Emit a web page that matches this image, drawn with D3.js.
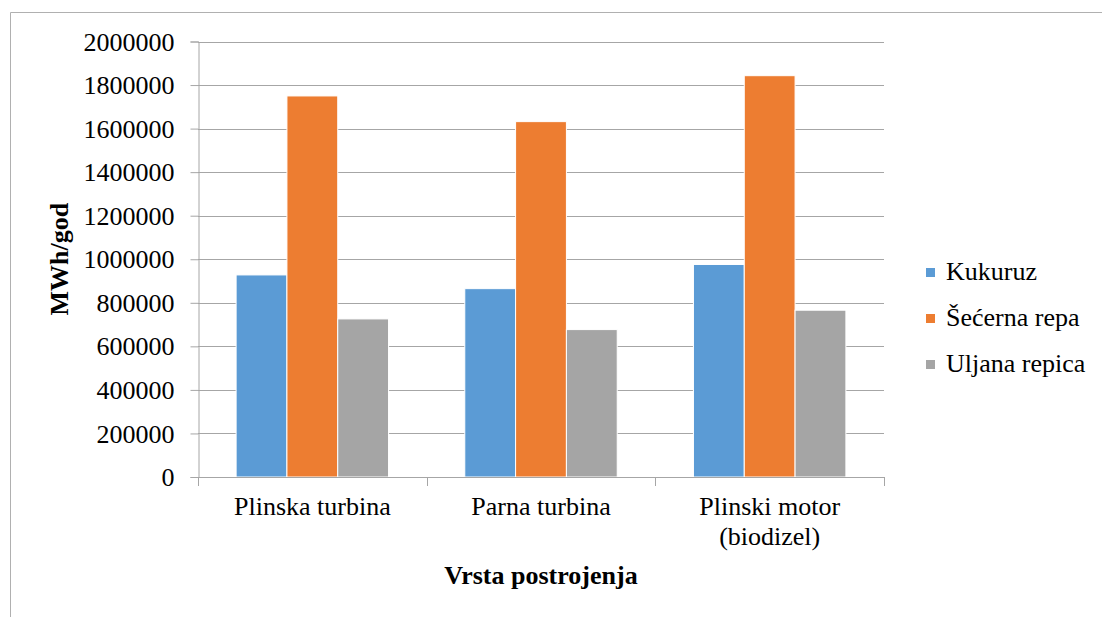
<!DOCTYPE html>
<html>
<head>
<meta charset="utf-8">
<script src="https://cdn.jsdelivr.net/npm/d3@7"></script>
<style>
  body { margin: 0; background: #fff; }
  svg { display: block; }
  svg text { font-family: "Liberation Serif", "Times New Roman", Times, "DejaVu Serif", serif; }
</style>
</head>
<body>
<svg id="chart"></svg>
<script>
const width = 1102
const height = 617
const fontSerif = '"Liberation Serif", "Times New Roman", Times, "DejaVu Serif", serif'

// data
const categories = [['Plinska turbina'], ['Parna turbina'], ['Plinski motor', '(biodizel)']]
const seriesNames = ['Kukuruz', 'Šećerna repa', 'Uljana repica']
const kukuruz = [928000, 865000, 976000]
const secernaRepa = [1750000, 1632000, 1843000]
const uljanaRepica = [726000, 677000, 766000]
const colors = ['#5b9bd5', '#ed7d31', '#a5a5a5']
const yTicks = [0, 200000, 400000, 600000, 800000, 1000000, 1200000, 1400000, 1600000, 1800000, 2000000]

const seriesValues = [kukuruz, secernaRepa, uljanaRepica]

const svg = d3.select('#chart').attr('width', width).attr('height', height)

// outer frame
svg
  .append('path')
  .attr('d', `M10.5,${height} V12.5 H${width}`)
  .attr('fill', 'none')
  .attr('stroke', '#b0b0b0')
  .attr('stroke-width', 1)

const margin = { left: 198, right: 884, top: 41.5, bottom: 477 }

const x0 = d3
  .scaleBand()
  .domain(d3.range(categories.length))
  .range([margin.left, margin.right])

// 150% gap width like the original
const barW = x0.bandwidth() / (3 + 1.5)
const y = d3.scaleLinear().domain([0, 2000000]).range([margin.bottom, margin.top])

// gridlines
svg
  .append('g')
  .selectAll('line')
  .data(yTicks.slice(1))
  .join('line')
  .attr('x1', margin.left)
  .attr('x2', margin.right)
  .attr('y1', (d) => Math.round(y(d)) + 0.5)
  .attr('y2', (d) => Math.round(y(d)) + 0.5)
  .attr('stroke', '#a6a6a6')
  .attr('stroke-width', 1)

// bars
const groups = svg
  .append('g')
  .selectAll('g')
  .data(categories)
  .join('g')
  .attr('transform', (d, i) => `translate(${x0(i) + x0.bandwidth() / 2 - 1.5 * barW},0)`)

groups
  .selectAll('rect')
  .data((d, i) => seriesValues.map((s, j) => ({ v: s[i], j: j })))
  .join('rect')
  .attr('x', (d) => d.j * barW)
  .attr('y', (d) => y(d.v))
  .attr('width', barW)
  .attr('height', (d) => y(0) - y(d.v))
  .attr('fill', (d) => colors[d.j])
  .attr('stroke', '#fff')
  .attr('stroke-width', 1)

// y axis
const yAxis = svg
  .append('g')
  .attr('transform', `translate(${margin.left + 0.5},0)`)
  .call(d3.axisLeft(y).tickValues(yTicks).tickFormat(d3.format('d')).tickSize(8).tickPadding(16))
yAxis.attr('font-family', fontSerif).attr('font-size', 26)
yAxis.select('.domain').attr('stroke', '#a6a6a6')
yAxis.selectAll('.tick line').attr('stroke', '#a6a6a6')
yAxis.selectAll('.tick text').attr('fill', '#000').attr('dy', '0.33em')

// x axis
const xAxisG = svg.append('g')
xAxisG
  .append('line')
  .attr('x1', margin.left)
  .attr('x2', margin.right)
  .attr('y1', Math.round(y(0)) + 0.5)
  .attr('y2', Math.round(y(0)) + 0.5)
  .attr('stroke', '#a6a6a6')
xAxisG
  .selectAll('.xtick')
  .data(d3.range(categories.length + 1))
  .join('line')
  .attr('class', 'xtick')
  .attr('x1', (i) => Math.round(margin.left + i * x0.step()) + 0.5)
  .attr('x2', (i) => Math.round(margin.left + i * x0.step()) + 0.5)
  .attr('y1', y(0))
  .attr('y2', y(0) + 9)
  .attr('stroke', '#a6a6a6')

const catLabels = xAxisG
  .selectAll('.xlabel')
  .data(categories)
  .join('text')
  .attr('class', 'xlabel')
  .attr('text-anchor', 'middle')
  .attr('font-family', fontSerif)
  .attr('font-size', 26)
  .attr('fill', '#000')
catLabels
  .selectAll('tspan')
  .data((d, i) => d.map((line) => ({ line, i })))
  .join('tspan')
  .attr('x', (d) => x0(d.i) + x0.bandwidth() / 2)
  .attr('y', (d, k) => 515 + k * 30)
  .text((d) => d.line)

// axis titles
svg
  .append('text')
  .attr('x', (margin.left + margin.right) / 2)
  .attr('y', 584)
  .attr('text-anchor', 'middle')
  .attr('font-family', fontSerif)
  .attr('font-size', 26)
  .attr('font-weight', 'bold')
  .text('Vrsta postrojenja')

svg
  .append('text')
  .attr('transform', `translate(68,${(margin.top + margin.bottom) / 2}) rotate(-90)`)
  .attr('text-anchor', 'middle')
  .attr('font-family', fontSerif)
  .attr('font-size', 26)
  .attr('font-weight', 'bold')
  .text('MWh/god')

// legend
const legend = svg
  .append('g')
  .selectAll('g')
  .data(seriesNames)
  .join('g')
  .attr('transform', (d, i) => `translate(926,${280 + i * 46})`)
legend
  .append('rect')
  .attr('x', 0)
  .attr('y', -12)
  .attr('width', 9)
  .attr('height', 9)
  .attr('fill', (d, i) => colors[i])
legend
  .append('text')
  .attr('x', 20)
  .attr('y', 0)
  .attr('font-family', fontSerif)
  .attr('font-size', 26)
  .attr('fill', '#000')
  .text((d) => d)
</script>
</body>
</html>
